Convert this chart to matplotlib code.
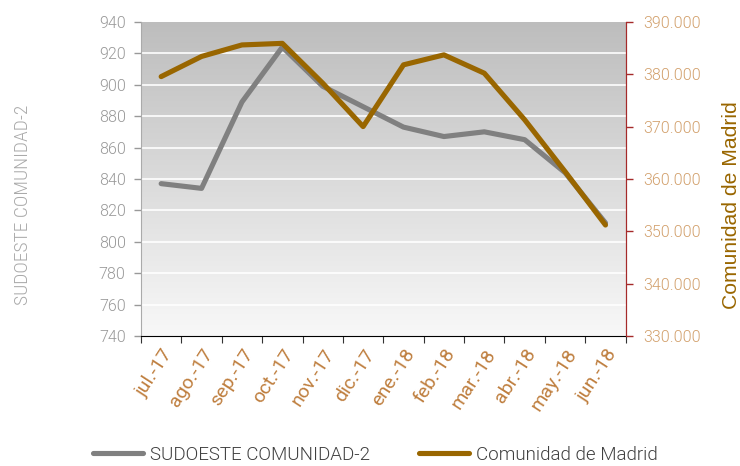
import numpy as np
import matplotlib
matplotlib.use("Agg")
import matplotlib.pyplot as plt
from matplotlib.colors import LinearSegmentedColormap
from matplotlib.lines import Line2D

months = ["jul.-17", "ago.-17", "sep.-17", "oct.-17", "nov.-17", "dic.-17",
          "ene.-18", "feb.-18", "mar.-18", "abr.-18", "may.-18", "jun.-18"]
sudoeste = [837, 834, 889, 924, 899, 886, 873, 867, 870, 865, 844, 812]
madrid = [379550, 383400, 385600, 385900, 378300, 370000,
          381800, 383700, 380200, 371300, 361400, 351200]

left_ticks = list(range(740, 941, 20))
right_ticks = list(range(330000, 390001, 10000))

plt.rcParams["font.family"] = ["Roboto", "DejaVu Sans"]
plt.rcParams["font.weight"] = 300

GRAY = "#808080"
BROWN = "#996600"
TAN = "#bf7f3f"
TAN_R = "#d2a06c"
DARKRED = "#a52a2a"

fig = plt.figure(figsize=(7.4, 4.66), dpi=100)
ax1 = fig.add_axes([0.1905, 0.279, 0.655, 0.674])
ax2 = ax1.twinx()

x = np.arange(len(months))
ax1.set_xlim(-0.5, len(months) - 0.5)
ax1.set_ylim(740, 940)
ax2.set_ylim(330000, 390000)

# vertical gradient background
cmap = LinearSegmentedColormap.from_list("bg", ["#f8f8f8", "#bdbdbd"])
grad = np.linspace(0, 1, 256).reshape(-1, 1)
ax1.imshow(grad, extent=[-0.5, len(months) - 0.5, 740, 940], origin="lower",
           aspect="auto", cmap=cmap, zorder=0)
for v in left_ticks[1:-1]:
    ax1.axhline(v, color="white", lw=1.2, zorder=1)

ax1.plot(x, sudoeste, color=GRAY, lw=3.7, solid_capstyle="round", zorder=3)
ax2.plot(x, madrid, color=BROWN, lw=3.7, solid_capstyle="round", zorder=3)

# left axis
ax1.set_yticks(left_ticks)
ax1.set_yticklabels([str(v) for v in left_ticks])
ax1.tick_params(axis="y", colors="#999999", labelsize=11.5, length=5, width=1,
                pad=6)
ax1.text(-0.233, 0.417, "SUDOESTE COMUNIDAD-2", transform=ax1.transAxes,
         rotation=90, rotation_mode="anchor", ha="center", va="baseline",
         color="#aaaaaa", fontsize=14, family=["Roboto Condensed", "Roboto"],
         weight=300)

# right axis
ax2.set_yticks(right_ticks)
ax2.set_yticklabels([f"{v // 1000}.000" for v in right_ticks])
ax2.tick_params(axis="y", colors=DARKRED, labelcolor=TAN_R, labelsize=11.5,
                length=5, width=1, pad=8)
ax2.text(1.229, 0.417, "Comunidad de Madrid", transform=ax2.transAxes,
         rotation=90, rotation_mode="anchor", ha="center", va="baseline",
         color=BROWN, fontsize=15.2, family="Liberation Sans", weight="normal")

# category axis: tick marks at boundaries, labels at centers
ax1.set_xticks(np.arange(-0.5, len(months)))
ax1.set_xticklabels([])
ax1.set_xticks(x, minor=True)
ax1.set_xticklabels(months, minor=True, rotation=57, ha="right",
                    rotation_mode="anchor", color=TAN, fontsize=14,
                    weight="normal")
ax1.tick_params(axis="x", which="major", length=5, color="#333333")
ax1.tick_params(axis="x", which="minor", length=0, pad=7)

for ax in (ax1, ax2):
    ax.spines["top"].set_visible(False)
    ax.spines["left"].set_color("#aaaaaa")
    ax.spines["bottom"].set_color("black")
    ax.spines["right"].set_color(DARKRED)
ax2.spines["left"].set_visible(False)
ax2.spines["bottom"].set_visible(False)

handles = [Line2D([], [], color=GRAY, lw=3.7, solid_capstyle="round"),
           Line2D([], [], color=BROWN, lw=3.7, solid_capstyle="round")]
fig.legend(handles, ["SUDOESTE COMUNIDAD-2", "Comunidad de Madrid"],
           loc="center", bbox_to_anchor=(0.507, 0.024), ncol=2, frameon=False,
           fontsize=13.5, handlelength=2.7, handletextpad=0.35,
           columnspacing=2.6, labelcolor="#404040")

fig.savefig("out.png", dpi=100)
